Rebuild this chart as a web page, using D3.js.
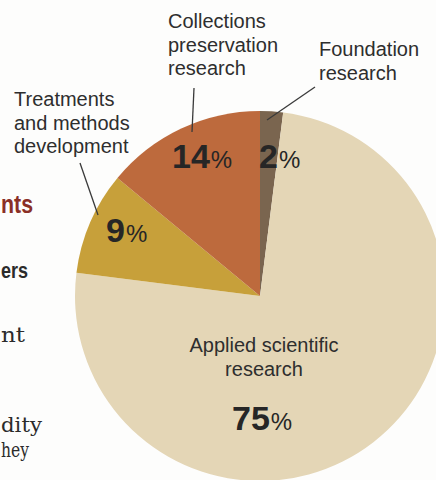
<!DOCTYPE html>
<html>
<head>
<meta charset="utf-8">
<script src="https://cdn.jsdelivr.net/npm/d3@7"></script>
<style>
  body { margin: 0; background: #fdfdfc; }
  svg { display: block; }
</style>
</head>
<body>
<script>
// dados do grafico (sentido horario a partir do topo)
var categorias = ['Foundation research', 'Applied scientific research',
  'Treatments and methods development', 'Collections preservation research']
var valores = [2, 75, 9, 14]
var cores = ['#7a654f', '#e4d6b6', '#c7a03a', '#bd6a3d']

// rotulos quebrados em linhas
var linhasRotulo = [
  ['Foundation', 'research'],
  ['Applied scientific', 'research'],
  ['Treatments', 'and methods', 'development'],
  ['Collections', 'preservation', 'research']
]

// fragmentos de texto da pagina cortados na margem esquerda
var fragmentos = ['nts', 'ers', 'nt', 'dity', 'hey']

const largura = 436
const altura = 480
const centro = {x: 260, y: 296}
const raio = 185

var svg = d3.select('body').append('svg')
  .attr('width', largura)
  .attr('height', altura)

// texto da pagina a esquerda (ajustado a largura visivel)
var estiloFrag = [
  {y: 213, larg: 32, fonte: 'Liberation Sans, Arial, sans-serif', tam: 25, peso: 'bold', cor: '#8a2f26'},
  {y: 278, larg: 27, fonte: 'Liberation Sans, Arial, sans-serif', tam: 22, peso: 'bold', cor: '#2b2b2b'},
  {y: 342, larg: 24, fonte: 'DejaVu Serif, serif', tam: 21, peso: 'normal', cor: '#2b2b2b'},
  {y: 432, larg: 41, fonte: 'DejaVu Serif, serif', tam: 21, peso: 'normal', cor: '#2b2b2b'},
  {y: 457, larg: 28, fonte: 'DejaVu Serif, serif', tam: 21, peso: 'normal', cor: '#2b2b2b'}
]
svg.selectAll('text.frag')
  .data(fragmentos)
  .enter().append('text')
    .attr('class', 'frag')
    .attr('x', 1)
    .attr('y', function (d, i) { return estiloFrag[i].y })
    .attr('textLength', function (d, i) { return estiloFrag[i].larg })
    .attr('lengthAdjust', 'spacingAndGlyphs')
    .attr('font-family', function (d, i) { return estiloFrag[i].fonte })
    .attr('font-size', function (d, i) { return estiloFrag[i].tam })
    .attr('font-weight', function (d, i) { return estiloFrag[i].peso })
    .attr('fill', function (d, i) { return estiloFrag[i].cor })
    .text(function (d) { return d })

// pizza
var pizza = d3.pie().sort(null).value(function (d) { return d })
var arco = d3.arc().innerRadius(0).outerRadius(raio)
var fatias = pizza(valores)

var grupo = svg.append('g')
  .attr('transform', 'translate(' + centro.x + ',' + centro.y + ')')

grupo.selectAll('path')
  .data(fatias)
  .enter().append('path')
    .attr('d', arco)
    .attr('fill', function (d, i) { return cores[i] })

// posicoes dos rotulos de percentual (relativas ao centro)
var posPct = [
  {dx: -1, dy: -128},
  {dx: -28, dy: 134},
  {dx: -154, dy: -54},
  {dx: -88, dy: -128}
]

var pct = grupo.selectAll('text.pct')
  .data(fatias)
  .enter().append('text')
    .attr('class', 'pct')
    .attr('x', function (d, i) { return posPct[i].dx })
    .attr('y', function (d, i) { return posPct[i].dy })
    .attr('font-family', 'Liberation Sans, Arial, sans-serif')
    .attr('fill', '#262626')

pct.append('tspan')
  .attr('font-size', 34)
  .attr('font-weight', 'bold')
  .text(function (d) { return d.data })
pct.append('tspan')
  .attr('font-size', 24)
  .attr('dx', 1)
  .text('%')

// rotulos das categorias
var posRotulo = [
  {x: 319, y: 56, anchor: 'start'},
  {x: 264, y: 352, anchor: 'middle'},
  {x: 14, y: 106, anchor: 'start'},
  {x: 168, y: 28, anchor: 'start'}
]

svg.selectAll('text.rotulo')
  .data(linhasRotulo)
  .enter().append('text')
    .attr('class', 'rotulo')
    .attr('font-family', 'Liberation Sans, Arial, sans-serif')
    .attr('font-size', 20)
    .attr('fill', '#2e2e2e')
    .attr('text-anchor', function (d, i) { return posRotulo[i].anchor })
    .each(function (linhas, i) {
      var t = d3.select(this)
      linhas.forEach(function (l, j) {
        t.append('tspan')
          .attr('x', posRotulo[i].x)
          .attr('y', posRotulo[i].y + j * 23.5)
          .text(l)
      })
    })

// linhas de chamada
var chamadas = [
  [[315, 87], [267, 120]],
  [[80, 163], [98, 215]],
  [[194, 88], [192, 132]]
]
svg.selectAll('line.chamada')
  .data(chamadas)
  .enter().append('line')
    .attr('class', 'chamada')
    .attr('x1', function (d) { return d[0][0] })
    .attr('y1', function (d) { return d[0][1] })
    .attr('x2', function (d) { return d[1][0] })
    .attr('y2', function (d) { return d[1][1] })
    .attr('stroke', '#3a3a3a')
    .attr('stroke-width', 1.3)
</script>
</body>
</html>
